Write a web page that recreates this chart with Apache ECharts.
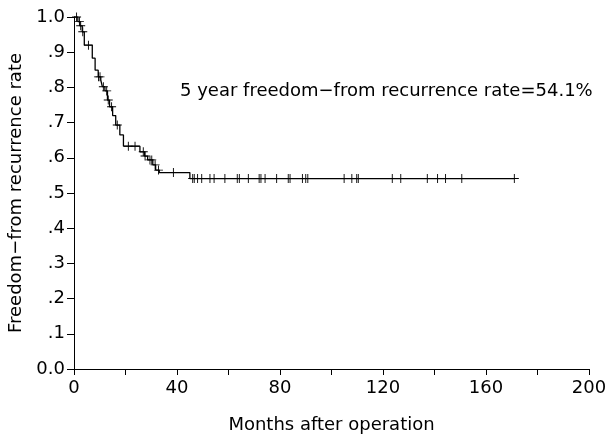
<!DOCTYPE html>
<html><head><meta charset="utf-8">
<script src="https://cdn.jsdelivr.net/npm/echarts@6/dist/echarts.min.js"></script>
<style>html,body{margin:0;padding:0;background:#fff}#c{width:608px;height:439px}</style>
</head><body><div id="c"></div>
<script>
// Kaplan-Meier event steps (months, survival after the step)
var eventTimes = [0, 1.5, 2.3, 3.2, 4.0, 7.1, 8.2, 9.4, 10.4, 11.0, 12.0, 13.0, 13.8, 15.0, 16.2, 17.8, 19.2, 25.6, 27.4, 28.6, 30.6, 31.7, 33.1, 45.0, 171.0];
var survival   = [1.0, 0.987, 0.975, 0.958, 0.92, 0.883, 0.849, 0.830, 0.821, 0.802, 0.790, 0.764, 0.745, 0.720, 0.693, 0.665, 0.633, 0.617, 0.605, 0.594, 0.580, 0.565, 0.558, 0.541, 0.541];
// censored observations (months)
var censorTimes = [1.0, 2.1, 2.6, 3.4, 5.6, 9.5, 10.1, 11.4, 12.7, 13.3, 14.6, 16.8, 21.1, 23.7, 26.9, 27.6, 29.5, 30.2, 31.5, 32.8, 38.6,
  46.1, 46.7, 48.0, 49.6, 52.8, 54.4, 58.6, 63.4, 64.2, 67.7, 71.9, 72.6, 74.2, 78.7, 83.2, 83.9, 88.7, 90.0, 90.8,
  104.9, 107.9, 109.8, 110.4, 123.6, 126.9, 137.2, 141.2, 144.3, 150.6, 171.0];
var xTicks = [0, 40, 80, 120, 160, 200];
var yTickLabels = ['0.0', '.1', '.2', '.3', '.4', '.5', '.6', '.7', '.8', '.9', '1.0'];
var annotation = '5 year freedom\u2212from recurrence rate=54.1%';
var yTitle = 'Freedom\u2212from recurrence rate';
var xTitle = 'Months after operation';

function survAt(t) {
  var v = survival[0];
  for (var i = 0; i < eventTimes.length; i++) { if (eventTimes[i] <= t) v = survival[i]; }
  return v;
}
var curve = eventTimes.map(function (t, i) { return [t, survival[i]]; });
var censors = censorTimes.map(function (t) { return [t, survAt(t)]; });

var font = 'DejaVu Sans';
var chart = echarts.init(document.getElementById('c'), null, {renderer: 'canvas'});
chart.setOption({
  animation: false,
  backgroundColor: '#fff',
  grid: {left: 74, right: 19, top: 17, bottom: 70, containLabel: false, outerBoundsMode: 'none'},
  xAxis: {
    type: 'value', min: 0, max: 200, interval: 20,
    name: xTitle, nameLocation: 'middle', nameGap: 47,
    nameTextStyle: {fontFamily: font, fontSize: 18, color: '#000'},
    axisLine: {show: true, onZero: false, lineStyle: {color: '#000', width: 1}},
    axisTick: {show: true, length: 6, lineStyle: {color: '#000'}},
    splitLine: {show: false},
    axisLabel: {
      fontFamily: font, fontSize: 18, color: '#000', margin: 10, showMaxLabel: true, hideOverlap: false,
      formatter: function (v) { return xTicks.indexOf(v) >= 0 ? String(v) : ''; }
    }
  },
  yAxis: {
    type: 'value', min: 0, max: 1, interval: 0.1,
    name: yTitle, nameLocation: 'middle', nameGap: 47, nameRotate: 90,
    nameTextStyle: {fontFamily: font, fontSize: 18, color: '#000'},
    axisLine: {show: true, onZero: false, lineStyle: {color: '#000', width: 1}},
    axisTick: {show: true, length: 7, lineStyle: {color: '#000'}},
    splitLine: {show: false},
    axisLabel: {
      fontFamily: font, fontSize: 18, color: '#000', margin: 9,
      formatter: function (v) { return yTickLabels[Math.round(v * 10)]; }
    }
  },
  graphic: [{
    type: 'text', left: 180, top: 82,
    style: {text: annotation, font: '18px "DejaVu Sans"', fill: '#000'}
  }],
  series: [{
    type: 'line', data: curve, step: 'end', showSymbol: false, symbol: 'none',
    lineStyle: {color: '#000', width: 1.3}
  }, {
    type: 'scatter', data: censors, symbolSize: 9,
    symbol: 'path://M4.5,0h1v4.5h4.5v1h-4.5v4.5h-1v-4.5h-4.5v-1h4.5z',
    itemStyle: {color: '#000', opacity: 1}
  }]
});
</script></body></html>
